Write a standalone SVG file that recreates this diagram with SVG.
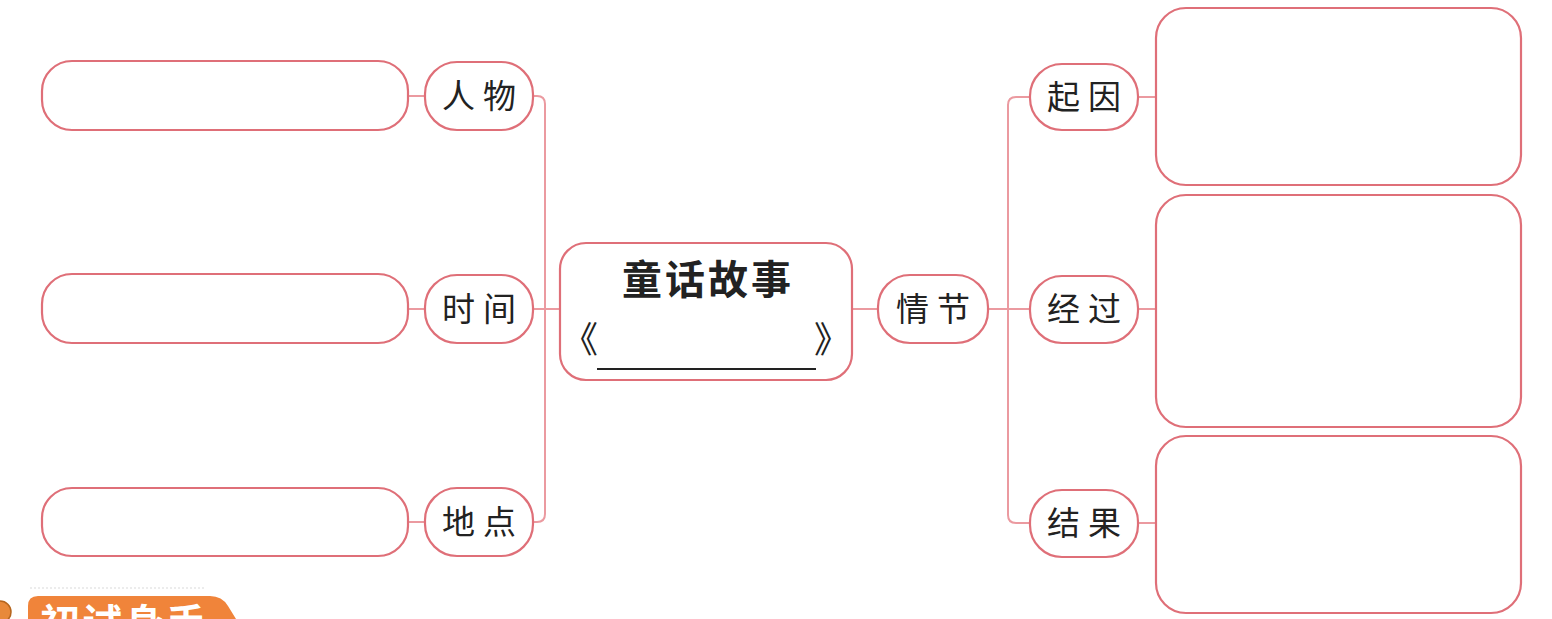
<svg xmlns="http://www.w3.org/2000/svg" width="1552" height="619" viewBox="0 0 1552 619">
<style>
.box{fill:#fff;stroke:#df6f78;stroke-width:2.2}
.con{fill:none;stroke:#eb9aa0;stroke-width:2}
.lbl{font-family:"Noto Sans CJK SC","Noto Sans",sans-serif;font-size:33px;fill:#222;text-anchor:middle;letter-spacing:8px}
.title{font-family:"Noto Sans CJK SC","Noto Sans",sans-serif;font-size:40px;font-weight:bold;fill:#222;text-anchor:middle;letter-spacing:3px}
.br{font-family:"Noto Sans CJK SC","Noto Sans",sans-serif;font-size:36px;fill:#222;text-anchor:middle}
</style>
<rect width="1552" height="619" fill="#fff"/>
<g id="connectors">
<path class="con" d="M408 96H425M408 309H425M408 522H425"/>
<path class="con" d="M533 96H537Q545 96 545 104V514Q545 522 537 522H533M533 309H560"/>
<path class="con" d="M852 309H878M988 309H1030"/>
<path class="con" d="M1030 97H1016Q1008 97 1008 105V515Q1008 523 1016 523H1030"/>
<path class="con" d="M1138 97H1156M1138 309H1156M1138 523H1156"/>
</g>
<g id="blank-renwu"><rect class="box" x="42" y="61" width="366" height="69" rx="30"/></g>
<g id="blank-shijian"><rect class="box" x="42" y="274" width="366" height="69" rx="30"/></g>
<g id="blank-didian"><rect class="box" x="42" y="488" width="366" height="68" rx="30"/></g>
<g id="renwu"><rect class="box" x="425" y="62" width="108" height="68" rx="32"/><text class="lbl" x="483" y="108">人物</text></g>
<g id="shijian"><rect class="box" x="425" y="275" width="108" height="68" rx="32"/><text class="lbl" x="483" y="321">时间</text></g>
<g id="didian"><rect class="box" x="425" y="488" width="108" height="68" rx="32"/><text class="lbl" x="483" y="534">地点</text></g>
<g id="center">
<rect class="box" x="560" y="243" width="292" height="137" rx="26"/>
<text class="title" x="708" y="294">童话故事</text>
<text class="br" x="580" y="353">《</text>
<text class="br" x="832" y="353">》</text>
<line x1="597" y1="369" x2="816" y2="369" stroke="#222" stroke-width="2"/>
</g>
<g id="qingjie"><rect class="box" x="878" y="275" width="110" height="68" rx="32"/><text class="lbl" x="937" y="321">情节</text></g>
<g id="qiyin"><rect class="box" x="1030" y="64" width="108" height="66" rx="32"/><text class="lbl" x="1088" y="109">起因</text></g>
<g id="jingguo"><rect class="box" x="1030" y="276" width="108" height="67" rx="32"/><text class="lbl" x="1088" y="321">经过</text></g>
<g id="jieguo"><rect class="box" x="1030" y="490" width="108" height="67" rx="32"/><text class="lbl" x="1088" y="535">结果</text></g>
<g id="blank-qiyin"><rect class="box" x="1156" y="8" width="365" height="177" rx="30"/></g>
<g id="blank-jingguo"><rect class="box" x="1156" y="195" width="365" height="232" rx="30"/></g>
<g id="blank-jieguo"><rect class="box" x="1156" y="436" width="365" height="177" rx="30"/></g>
<g id="tag">
<line x1="30" y1="588" x2="205" y2="588" stroke="#e6e6e6" stroke-width="1.5" stroke-dasharray="2 2"/>
<circle cx="0" cy="612" r="11" fill="#e8893a" stroke="#b5651d" stroke-width="1.5"/>
<path d="M38 596H210Q222 596 228 606L236 619H28V606Q28 596 38 596Z" fill="#f0843a"/>
<text x="40" y="638" font-family="'Noto Sans CJK SC',sans-serif" font-size="40" font-weight="bold" fill="#fff" letter-spacing="2">初试身手</text>
</g>
</svg>
